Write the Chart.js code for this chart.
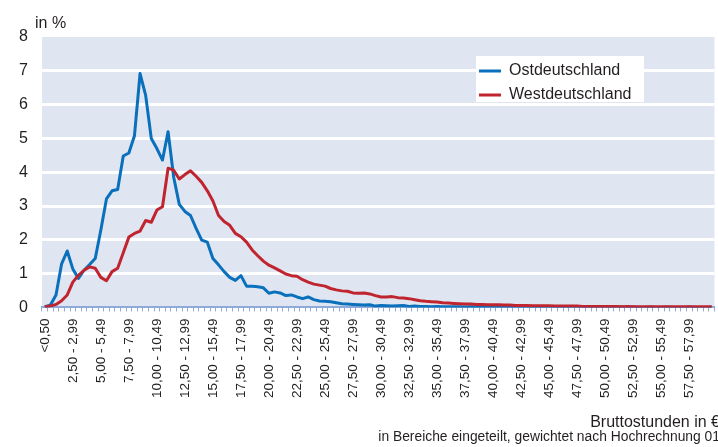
<!DOCTYPE html>
<html>
<head>
<meta charset="utf-8">
<style>
  html, body { margin: 0; padding: 0; background: #ffffff; }
  #wrap { position: relative; width: 718px; height: 447px; overflow: hidden; }
</style>
<script src="https://cdn.jsdelivr.net/npm/chart.js@4.4.0/dist/chart.umd.min.js"></script>
</head>
<body>
<div id="wrap"><canvas id="c" width="718" height="447"></canvas></div>
<script>
// ---------- data ----------
function fmtEuro(n) { return n.toFixed(2).replace('.', ','); }
const categories = ['<0,50'];
for (let i = 1; i < 120; i++) { categories.push(fmtEuro(i * 0.5) + ' - ' + fmtEuro(i * 0.5 + 0.49)); }

const seriesNames = ['Ostdeutschland', 'Westdeutschland'];

const ostValues = [
  0.02, 0.07, 0.37, 1.29, 1.67, 1.14, 0.86, 1.10, 1.27, 1.45,
  2.29, 3.21, 3.45, 3.49, 4.48, 4.57, 5.08, 6.92, 6.27, 5.00,
  4.70, 4.36, 5.20, 3.85, 3.05, 2.84, 2.72, 2.34, 1.99, 1.93,
  1.45, 1.26, 1.06, 0.89, 0.80, 0.94, 0.63, 0.63, 0.61, 0.58,
  0.42, 0.46, 0.43, 0.35, 0.37, 0.31, 0.26, 0.31, 0.23, 0.19,
  0.18, 0.17, 0.14, 0.11, 0.10, 0.09, 0.08, 0.07, 0.08, 0.04,
  0.06, 0.05, 0.04, 0.05, 0.06, 0.03, 0.04, 0.03, 0.03, 0.02,
  0.03, 0.02, 0.02, 0.02, 0.02, 0.01, 0.02, 0.01, 0.01, 0.01,
  0.01, 0.02, 0.01, 0.01, 0.01, 0.01, 0.01, 0.01, 0.00, 0.01,
  0.01, 0.01, 0.00, 0.01, 0.01, 0.00, 0.01, 0.01, 0.00, 0.01,
  0.01, 0.00, 0.00, 0.01, 0.00, 0.01, 0.00, 0.00, 0.01, 0.00,
  0.00, 0.01, 0.00, 0.00, 0.00, 0.01, 0.00, 0.00, 0.00, 0.01
];

const westValues = [
  0.02, 0.04, 0.09, 0.20, 0.37, 0.75, 0.95, 1.10, 1.20, 1.16,
  0.89, 0.79, 1.06, 1.16, 1.62, 2.08, 2.19, 2.26, 2.57, 2.52,
  2.88, 2.98, 4.12, 4.06, 3.80, 3.93, 4.04, 3.88, 3.70, 3.45,
  3.15, 2.72, 2.54, 2.43, 2.19, 2.09, 1.93, 1.70, 1.53, 1.37,
  1.25, 1.17, 1.08, 0.99, 0.94, 0.92, 0.82, 0.75, 0.69, 0.66,
  0.63, 0.56, 0.52, 0.49, 0.48, 0.43, 0.42, 0.43, 0.40, 0.35,
  0.31, 0.31, 0.32, 0.29, 0.28, 0.26, 0.23, 0.20, 0.18, 0.17,
  0.16, 0.14, 0.13, 0.12, 0.11, 0.10, 0.10, 0.09, 0.09, 0.08,
  0.08, 0.08, 0.07, 0.07, 0.06, 0.06, 0.06, 0.05, 0.05, 0.05,
  0.05, 0.04, 0.04, 0.04, 0.04, 0.04, 0.03, 0.03, 0.03, 0.03,
  0.03, 0.03, 0.03, 0.02, 0.03, 0.02, 0.02, 0.02, 0.02, 0.02,
  0.02, 0.02, 0.02, 0.02, 0.02, 0.02, 0.02, 0.02, 0.02, 0.02
];

const yTickValues = [0, 1, 2, 3, 4, 5, 6, 7, 8];
const xLabelEvery = 5;
const yUnitLabel = 'in %';
const xTitle = 'Bruttostunden in €';
const xSubtitle = 'in Bereiche eingeteilt, gewichtet nach Hochrechnung 01';

// ---------- style ----------
const FONT = '"Liberation Sans", Arial, Helvetica, sans-serif';
const TEXT = '#231f20';
const BLUE = '#0a70bb';
const RED = '#c0252f';
const PLOT_BG = '#dfe6f2';
const AXIS_BLUE = '#8faad8';
const LEGEND_BOX = { x: 476, y: 56, w: 168, h: 46 };
const LEGEND_POS = { x: 471, y: 55 };

Chart.defaults.font.family = FONT;

const plotBackground = {
  id: 'plotBackground',
  beforeDraw(chart) {
    const { ctx, chartArea: a } = chart;
    ctx.save();
    ctx.fillStyle = PLOT_BG;
    ctx.fillRect(a.left, a.top, a.width, a.height);
    ctx.restore();
  }
};

const legendPlacement = {
  id: 'legendPlacement',
  afterLayout(chart) {
    const lg = chart.legend;
    if (!lg) return;
    const w = lg.width;
    lg.left = LEGEND_POS.x; lg.top = LEGEND_POS.y;
    lg.right = LEGEND_POS.x + w + 12; lg.bottom = LEGEND_POS.y + 60;
    lg.width = lg.right - lg.left; lg.height = 60;
  },
  beforeDatasetsDraw(chart) {
    const ctx = chart.ctx;
    ctx.save();
    ctx.fillStyle = '#ffffff';
    ctx.fillRect(LEGEND_BOX.x, LEGEND_BOX.y, LEGEND_BOX.w, LEGEND_BOX.h);
    ctx.restore();
    chart.legend.draw();
  }
};

const unitLabel = {
  id: 'unitLabel',
  afterDraw(chart) {
    const ctx = chart.ctx;
    ctx.save();
    ctx.font = '16px ' + FONT;
    ctx.fillStyle = TEXT;
    ctx.textBaseline = 'alphabetic';
    ctx.textAlign = 'left';
    ctx.fillText(yUnitLabel, 35, 28);
    ctx.restore();
  }
};

const hideEdge = (c) => (c.tick && (c.tick.value === 0 || c.tick.value === 8)) ? 'rgba(0,0,0,0)' : '#ffffff';

new Chart(document.getElementById('c'), {
  type: 'line',
  data: {
    labels: categories,
    datasets: [
      { label: seriesNames[0], data: ostValues, borderColor: BLUE, backgroundColor: BLUE, borderWidth: 3,
        pointRadius: 0, tension: 0, order: 1, borderJoinStyle: 'round' },
      { label: seriesNames[1], data: westValues, borderColor: RED, backgroundColor: RED, borderWidth: 3,
        pointRadius: 0, tension: 0, order: 0, borderJoinStyle: 'round' }
    ]
  },
  options: {
    responsive: false,
    animation: false,
    devicePixelRatio: 1,
    events: [],
    layout: { padding: { left: 5.1, right: -2, top: 37, bottom: 2.75 } },
    scales: {
      x: {
        type: 'category',
        offset: true,
        afterFit: (scale) => { scale.paddingLeft = 0; scale.paddingRight = 3.5; },
        grid: { display: true, drawOnChartArea: false, drawTicks: true, tickLength: 4, color: AXIS_BLUE, lineWidth: 1, offset: true },
        border: { display: true, color: AXIS_BLUE, width: 2 },
        ticks: {
          autoSkip: false, maxRotation: 90, minRotation: 90, padding: 7,
          font: { size: 13.5 }, color: TEXT,
          callback: function (v, i) { return i % xLabelEvery === 0 ? categories[i] : ''; }
        }
      },
      y: {
        min: yTickValues[0], max: yTickValues[yTickValues.length - 1],
        grid: { color: hideEdge, lineWidth: 3, drawTicks: false },
        border: { display: false },
        ticks: { stepSize: 1, padding: 14, font: { size: 16 }, color: TEXT }
      }
    },
    plugins: {
      tooltip: { enabled: false },
      legend: {
        display: true, position: 'chartArea', align: 'start',
        labels: {
          boxWidth: 22, boxHeight: 3, padding: 8, color: TEXT, font: { size: 16 },
          sort: (a, b) => a.datasetIndex - b.datasetIndex,
          generateLabels: (chart) => Chart.defaults.plugins.legend.labels.generateLabels(chart)
            .map(l => Object.assign(l, { lineWidth: 0, fillStyle: l.strokeStyle }))
        }
      },
      title: {
        display: true, text: xTitle, position: 'bottom', align: 'end', weight: 1000,
        color: TEXT, font: { size: 16, weight: 'normal', lineHeight: 1 }, padding: { top: 9.4, bottom: 0 }
      },
      subtitle: {
        display: true, text: xSubtitle, position: 'bottom', align: 'end', weight: 2000,
        color: TEXT, font: { size: 13.85, weight: 'normal', lineHeight: 1 }, padding: { top: 0, bottom: 0 }
      }
    }
  },
  plugins: [plotBackground, legendPlacement, unitLabel]
});
</script>
</body>
</html>
